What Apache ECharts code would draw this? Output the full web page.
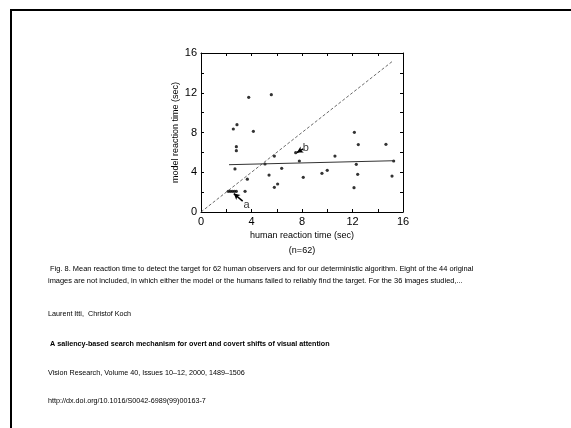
<!DOCTYPE html>
<html>
<head>
<meta charset="utf-8">
<script src="https://cdn.jsdelivr.net/npm/echarts@6/dist/echarts.min.js"></script>
<style>
  html, body { margin: 0; padding: 0; background: #fff; }
  #chart { width: 571px; height: 428px; }
</style>
</head>
<body>
<div id="chart"></div>
<script>
  // human vs model reaction times (sec)
  const humanTimes = [2.56, 2.85, 2.8, 2.8, 2.69, 3.78, 5.57, 4.15, 3.67, 3.49,
    2.16, 2.32, 2.48, 2.64, 2.8, 5.07, 5.81, 5.39, 5.81, 6.07, 6.39, 7.5, 7.79,
    8.1, 9.58, 10.0, 10.61, 12.15, 12.46, 12.3, 12.41, 12.12, 14.65, 15.26, 15.13];
  const modelTimes = [8.35, 8.79, 6.57, 6.17, 4.33, 11.54, 11.81, 8.12, 3.3, 2.08,
    2.08, 2.08, 2.08, 2.08, 2.08, 4.83, 5.63, 3.72, 2.48, 2.82, 4.39, 5.97, 5.13,
    3.49, 3.89, 4.19, 5.63, 8.02, 6.78, 4.8, 3.79, 2.45, 6.81, 5.13, 3.62];
  const diagonal = [[0, 0], [15.2, 15.2]];
  const fitLine = [[2.22, 4.76], [15.29, 5.16]];
  const labelPoints = [[3.6, 0.75, 'a'], [8.3, 6.4, 'b']];
  const arrowA = [[3.3, 1.1], [2.6, 1.85]];
  const arrowB = [[8.1, 6.35], [7.6, 5.99]];
  const axisTicks = [0, 4, 8, 12, 16];

  const captionLines = [
    ' Fig. 8. Mean reaction time to detect the target for 62 human observers and for our deterministic algorithm. Eight of the 44 original',
    'images are not included, in which either the model or the humans failed to reliably find the target. For the 36 images studied,...'
  ];
  const authors = 'Laurent Itti,  Christof Koch';
  const paperTitle = ' A saliency-based search mechanism for overt and covert shifts of visual attention';
  const journal = 'Vision Research, Volume 40, Issues 10\u201312, 2000, 1489\u20131506';
  const doi = 'http://dx.doi.org/10.1016/S0042-6989(99)00163-7';

  const font = 'Liberation Sans, Arial, Helvetica, sans-serif';
  const chart = echarts.init(document.getElementById('chart'));

  function tickLabel(v) {
    return axisTicks.indexOf(v) >= 0 ? String(v) : '';
  }
  function baseAxis(extra) {
    return Object.assign({
      type: 'value', min: 0, max: 16, interval: 2,
      axisLine: { show: true, onZero: false, lineStyle: { color: '#000', width: 1 } },
      axisTick: { show: true, inside: true, length: 3, lineStyle: { color: '#000' } },
      splitLine: { show: false },
      axisLabel: { formatter: tickLabel, color: '#000', fontSize: 11, fontFamily: font, margin: 4 }
    }, extra);
  }

  function txt(x, y, s, size, bold) {
    return {
      type: 'text', left: x, top: y,
      style: { text: s, fill: '#000', fontFamily: font, fontSize: size, fontWeight: bold ? 'bold' : 'normal' }
    };
  }

  const option = {
    animation: false,
    backgroundColor: '#fff',
    grid: { left: 201, right: 168, top: 53, bottom: 216, containLabel: false },
    xAxis: [
      baseAxis({
        position: 'bottom',
        name: 'human reaction time (sec)\n(n=62)',
        nameLocation: 'middle', nameGap: 12,
        nameTextStyle: { color: '#000', fontSize: 9, fontFamily: font, lineHeight: 15, verticalAlign: 'top' }
      }),
      baseAxis({ position: 'top', axisLabel: { show: false } })
    ],
    yAxis: [
      baseAxis({
        position: 'left',
        name: 'model reaction time (sec)',
        nameLocation: 'middle', nameGap: 21,
        nameTextStyle: { color: '#000', fontSize: 9, fontFamily: font }
      }),
      baseAxis({ position: 'right', axisLabel: { show: false } })
    ],
    graphic: [
      { type: 'rect', shape: { x: 10, y: 9, width: 561, height: 2 }, style: { fill: '#000' } },
      { type: 'rect', shape: { x: 10, y: 9, width: 2, height: 419 }, style: { fill: '#000' } },
      txt(48, 265, captionLines[0], 7.45),
      txt(48, 277, captionLines[1], 7.45),
      txt(48, 311, authors, 7.2),
      txt(48, 341, paperTitle, 7.2, true),
      txt(48, 370, journal, 7.2),
      txt(48, 398, doi, 7.2)
    ],
    series: [
      {
        type: 'line', data: diagonal, symbol: 'none', silent: true,
        lineStyle: { color: '#444', width: 0.8, type: [3, 2] }
      },
      {
        type: 'line', data: fitLine, symbol: 'none', silent: true,
        lineStyle: { color: '#333', width: 1 }
      },
      {
        type: 'scatter',
        data: humanTimes.map((h, i) => [h, modelTimes[i]]),
        symbol: 'circle', symbolSize: 3.2,
        itemStyle: { color: '#000' },
        markLine: {
          silent: true,
          symbol: ['none', 'arrow'], symbolSize: [5, 6],
          label: { show: false },
          lineStyle: { color: '#000', width: 1.5, type: 'solid' },
          data: [
            [{ coord: arrowA[0] }, { coord: arrowA[1] }],
            [{ coord: arrowB[0] }, { coord: arrowB[1] }]
          ]
        }
      },
      {
        type: 'scatter', data: labelPoints, symbolSize: 0, silent: true,
        label: {
          show: true, position: 'inside', formatter: p => p.data[2],
          color: '#000', fontSize: 11, fontFamily: font
        }
      }
    ]
  };
  chart.setOption(option);
</script>
</body>
</html>
